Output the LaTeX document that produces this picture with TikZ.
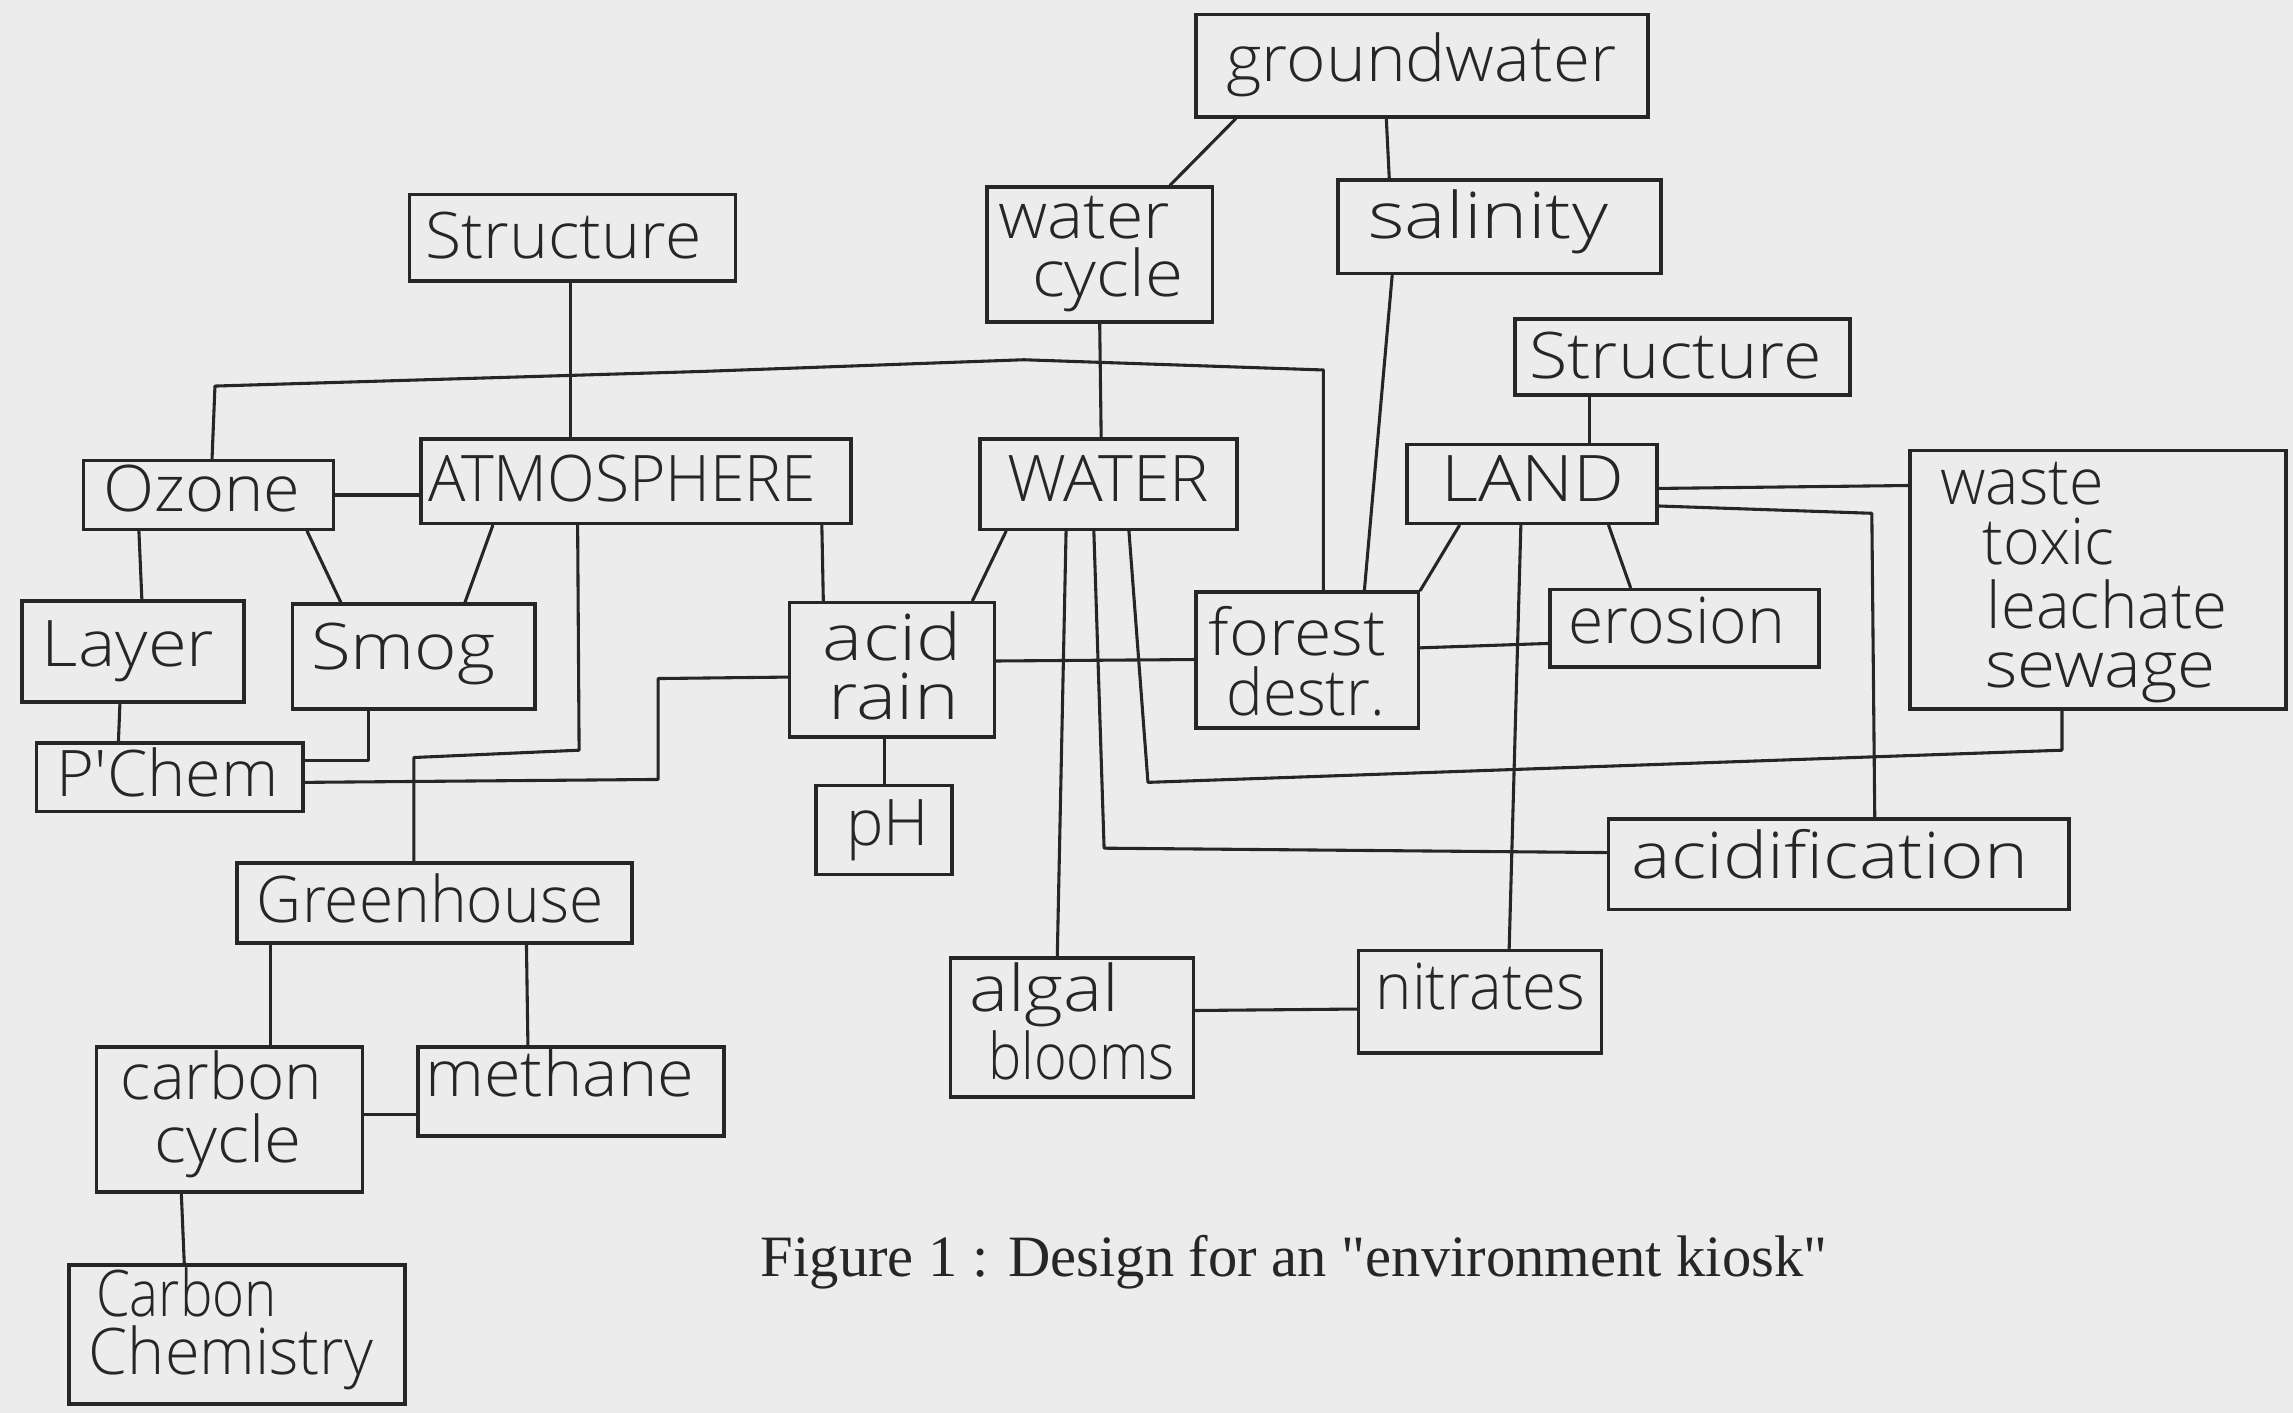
\documentclass[tikz,border=0pt]{standalone}
\usepackage{fontspec}
\setmainfont{Liberation Serif}
\newfontfamily\hand{Open Sans}[UprightFont={* Light}]
\usetikzlibrary{fit,calc}
\definecolor{paper}{RGB}{236,236,236}
\definecolor{ink}{RGB}{38,38,38}
\newcommand{\hw}[2][0.98]{\scalebox{#1}[1]{#2}}
\newcommand{\sq}{\XeTeXglyph\XeTeXcharglyph"22\relax}
\begin{document}
\begin{tikzpicture}[x=0.1mm,y=-0.1mm,
  box/.style={draw=ink, line width=0.7pt, inner sep=0pt},
  txt/.style={anchor=base west, inner sep=0pt, font=\hand\fontsize{12.5}{14}\selectfont, text=ink},
  link/.style={draw=ink, line width=0.6pt, line join=round, line cap=round}]
\fill[paper] (0,0) rectangle (1568,966);
\useasboundingbox (0,0) rectangle (1568,966);

% ---------- boxes ----------
\node[box, fit={(818,10) (1127,80)}] (gw) {};
\node[box, fit={(280,133) (503,192)}] (str1) {};
\node[box, fit={(675,128) (829,220)}] (wc) {};
\node[box, fit={(915,123) (1136,187)}] (sal) {};
\node[box, fit={(1036,218) (1265,270)}] (str2) {};
\node[box, fit={(57,315) (228,362)}] (ozo) {};
\node[box, fit={(288,300) (582,358)}] (atm) {};
\node[box, fit={(670,300) (846,362)}] (wat) {};
\node[box, fit={(962,304) (1133,358)}] (lnd) {};
\node[box, fit={(1306,308) (1563,485)}] (was) {};
\node[box, fit={(15,411) (167,480)}] (lay) {};
\node[box, fit={(200,413) (366,485)}] (smo) {};
\node[box, fit={(540,412) (680,504)}] (acr) {};
\node[box, fit={(818,405) (970,498)}] (fde) {};
\node[box, fit={(1060,403) (1244,456)}] (ero) {};
\node[box, fit={(25,508) (207,555)}] (pch) {};
\node[box, fit={(558,537) (651,598)}] (ph) {};
\node[box, fit={(162,590) (432,645)}] (grh) {};
\node[box, fit={(1100,560) (1415,622)}] (acf) {};
\node[box, fit={(650,655) (816,750)}] (alg) {};
\node[box, fit={(929,650) (1095,720)}] (nit) {};
\node[box, fit={(66,716) (248,815)}] (cc) {};
\node[box, fit={(286,716) (495,777)}] (met) {};
\node[box, fit={(47,865) (277,960)}] (cch) {};

% ---------- texts ----------
\node[txt] (t-gw) at (838,56) {\hw[1.05]{groundwater}};
\node[txt] (t-str1) at (290,177) {\hw[1.03]{Structure}};
\node[txt] (t-wc1) at (682,163) {\hw[1.06]{water}};
\node[txt] (t-wc2) at (705,203) {\hw[1.08]{cycle}};
\node[txt] (t-sal) at (935,163) {\hw[1.22]{salinity}};
\node[txt] (t-str2) at (1045,259) {\hw[1.09]{Structure}};
\node[txt] (t-ozo) at (70,350) {\hw[1.04]{Ozone}};
\node[txt] (t-atm) at (292,343) {\hw[0.97]{ATMOSPHERE}};
\node[txt] (t-wat) at (688,343) {\hw[1.03]{WATER}};
\node[txt] (t-lnd) at (985,343) {\hw[1.12]{LAND}};
\node[txt] (t-was1) at (1326,345) {\hw{waste}};
\node[txt] (t-was2) at (1355,386) {\hw{toxic}};
\node[txt] (t-was3) at (1358,430) {\hw[0.99]{leachate}};
\node[txt] (t-was4) at (1357,470) {\hw[1.08]{sewage}};
\node[txt] (t-lay) at (28,456) {\hw[1.1]{Layer}};
\node[txt] (t-smo) at (212,458) {\hw[1.13]{Smog}};
\node[txt] (t-acr1) at (562,452) {\hw[1.18]{acid}};
\node[txt] (t-acr2) at (566,492) {\hw[1.18]{rain}};
\node[txt] (t-fde1) at (826,448) {\hw[1.06]{forest}};
\node[txt] (t-fde2) at (838,489) {\hw[0.96]{destr.}};
\node[txt] (t-ero) at (1072,440) {\hw[1.0]{erosion}};
\node[txt] (t-pch) at (38,545) {\hw[1.01]{P'Chem}};
\node[txt] (t-ph) at (578,578) {\hw{pH}};
\node[txt] (t-grh) at (175,631) {\hw[0.97]{Greenhouse}};
\node[txt] (t-acf) at (1115,601) {\hw[1.16]{acidification}};
\node[txt] (t-alg1) at (662,692) {\hw[1.15]{algal}};
\node[txt] (t-alg2) at (675,738) {\hw[0.87]{blooms}};
\node[txt] (t-nit) at (940,690) {\hw[0.96]{nitrates}};
\node[txt] (t-cc1) at (82,752) {\hw[0.99]{carbon}};
\node[txt] (t-cc2) at (105,795) {\hw[1.05]{cycle}};
\node[txt] (t-met) at (290,750) {\hw[1.04]{methane}};
\node[txt] (t-cch1) at (65,900) {\hw[0.85]{Carbon}};
\node[txt] (t-cch2) at (60,940) {\hw[0.98]{Chemistry}};

\node[anchor=base, inner sep=0pt, font=\fontsize{11.4}{14}\selectfont, text=ink] (cap) at (885,873)
  {Figure 1 : Design for an \sq environment kiosk\sq};

% ---------- connectors ----------
\draw[link] (str1.south -| 390,0) -- (atm.north -| 390,0);
\coordinate (k1) at (147,264);
\coordinate (k2) at (480,254);
\coordinate (k3) at (700,246);
\coordinate (k4) at (905,253);
\draw[link] (ozo.north -| 145,0) -- (k1) -- (k2) -- (k3) -- (k4) -- (fde.north -| 905,0);
\draw[link] (ozo.east) -- (ozo.east -| atm.west);
\draw[link] (ozo.south -| 95,0) -- (lay.north -| 97,0);
\draw[link] (ozo.south -| 210,0) -- (smo.north -| 233,0);
\draw[link] (atm.south -| 337,0) -- (smo.north -| 318,0);
\draw[link] (lay.south -| 82,0) -- (pch.north -| 81,0);
\coordinate (s1) at (252,520);
\draw[link] (smo.south -| 252,0) -- (s1) -- (pch.east |- s1);
\coordinate (g1) at (396,513);
\coordinate (g2) at (283,518);
\draw[link] (atm.south -| 395,0) -- (g1) -- (g2) -- (grh.north -| 283,0);
\coordinate (a1) at (450,464);
\coordinate (a2) at (450,533);
\draw[link] (acr.west |- 0,463) -- (a1) -- (a2) -- (pch.east |- 0,535);
\draw[link] (atm.south -| 562,0) -- (acr.north -| 563,0);
\draw[link] (acr.south -| 605,0) -- (ph.north -| 605,0);
\draw[link] (wat.south -| 688,0) -- (acr.north -| 665,0);
\draw[link] (wc.south -| 752,0) -- (wat.north -| 753,0);
\draw[link] (gw.south -| 845,0) -- (wc.north -| 800,0);
\draw[link] (gw.south -| 948,0) -- (sal.north -| 950,0);
\draw[link] (sal.south -| 952,0) -- (fde.north -| 933,0);
\draw[link] (str2.south -| 1087,0) -- (lnd.north -| 1087,0);
\draw[link] (fde.west |- 0,451) -- (acr.east |- 0,452);
\draw[link] (fde.east |- 0,443) -- (ero.west |- 0,440);
\draw[link] (lnd.south -| 998,0) -- (fde.north east);
\draw[link] (lnd.south -| 1100,0) -- (ero.north -| 1115,0);
\draw[link] (lnd.south -| 1040,0) -- (nit.north -| 1032,0);
\draw[link] (lnd.east |- 0,334) -- (was.west |- 0,332);
\coordinate (l1) at (1280,351);
\draw[link] (lnd.east |- 0,346) -- (l1) -- (acf.north -| 1282,0);
\coordinate (w1) at (1410,513);
\coordinate (w2) at (785,535);
\draw[link] (was.south -| 1410,0) -- (w1) -- (w2) -- (wat.south -| 772,0);
\coordinate (c1) at (755,580);
\draw[link] (wat.south -| 748,0) -- (c1) -- (acf.west |- 0,583);
\draw[link] (wat.south -| 729,0) -- (alg.north -| 723,0);
\draw[link] (alg.east |- 0,691) -- (nit.west |- 0,690);
\draw[link] (grh.south -| 185,0) -- (cc.north -| 185,0);
\draw[link] (grh.south -| 360,0) -- (met.north -| 361,0);
\draw[link] (cc.east |- 0,762) -- (met.west |- 0,762);
\draw[link] (cc.south -| 124,0) -- (cch.north -| 126,0);
\end{tikzpicture}
\end{document}
